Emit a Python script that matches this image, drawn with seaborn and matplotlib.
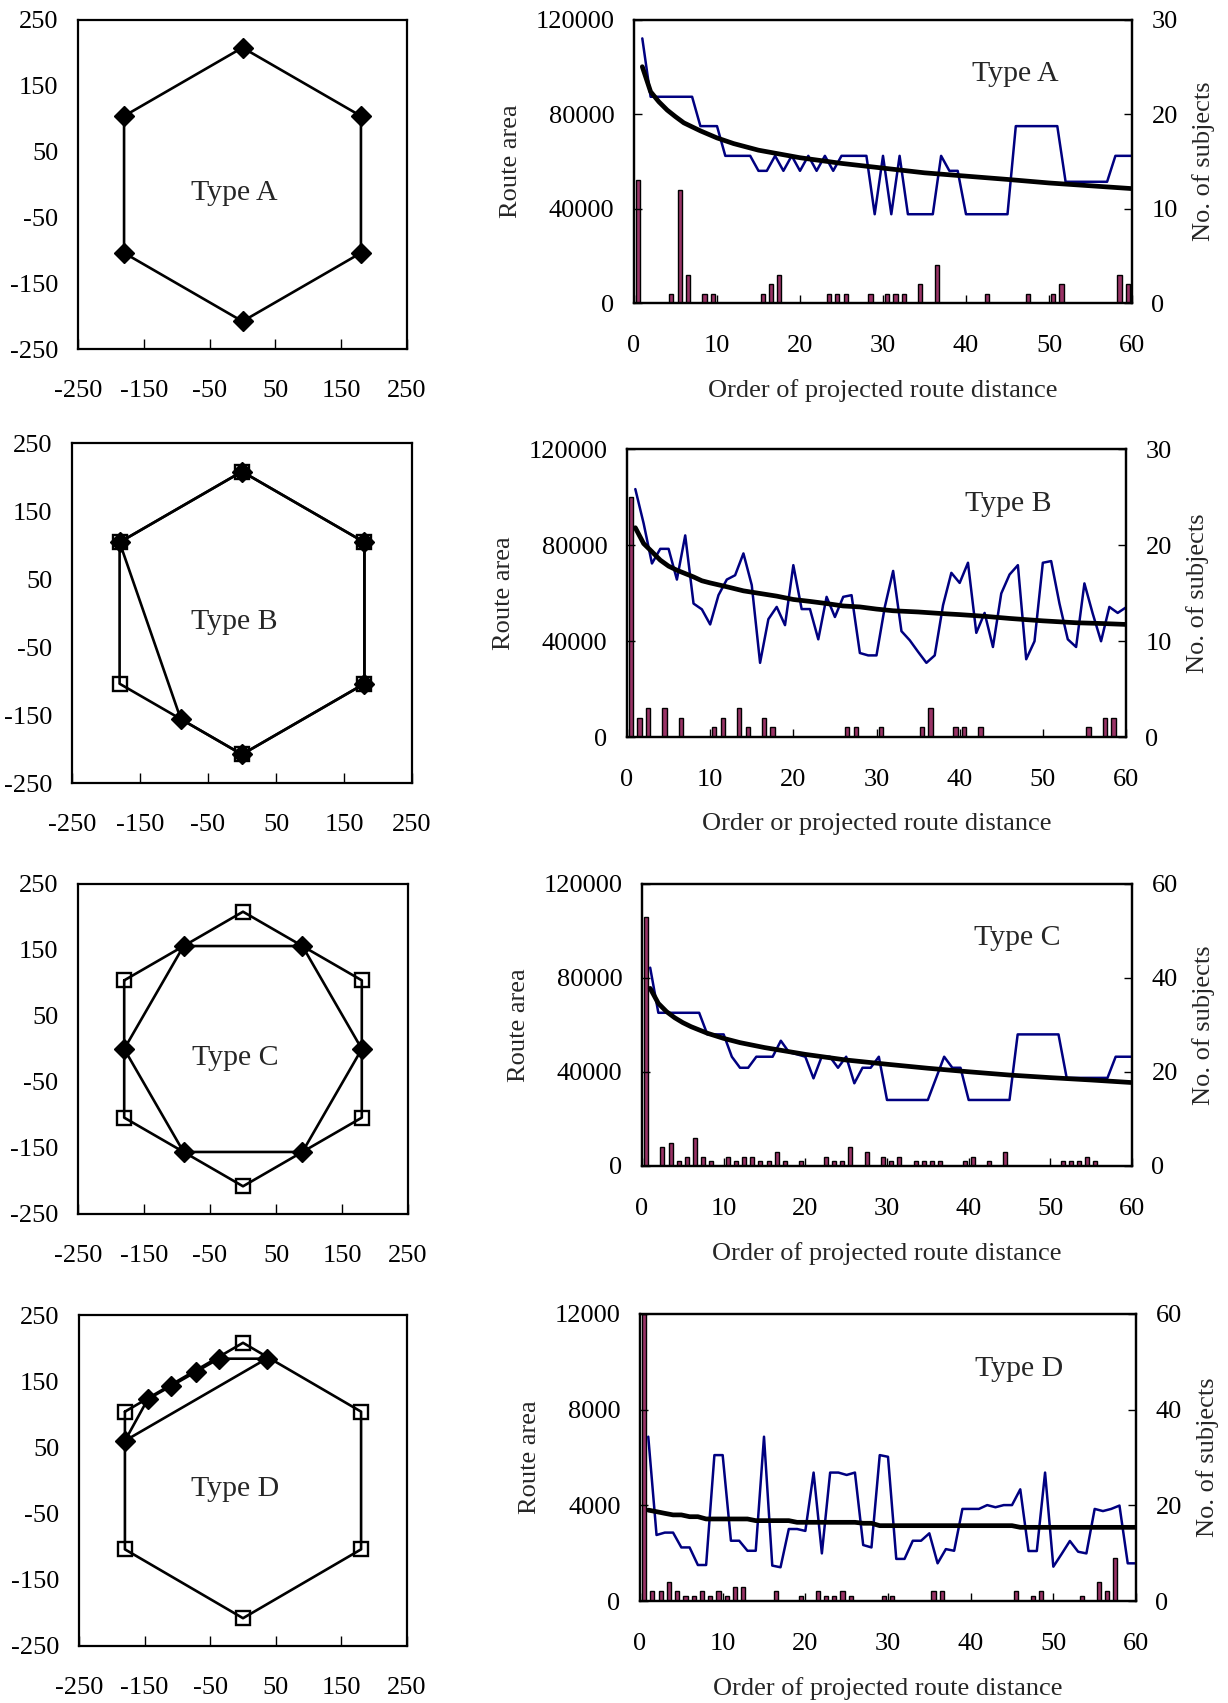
import numpy as np
import matplotlib
matplotlib.use("Agg")
import matplotlib.pyplot as plt
import seaborn as sns

sns.set_style("ticks")
plt.rcParams['font.family'] = ['Liberation Serif', 'DejaVu Serif']
plt.rcParams['axes.unicode_minus'] = False
plt.rcParams['xtick.direction'] = 'in'
plt.rcParams['ytick.direction'] = 'in'
plt.rcParams['axes.edgecolor'] = 'black'
plt.rcParams['xtick.color'] = 'black'
plt.rcParams['ytick.color'] = 'black'

# Rotas (esquerda): vertices do hexagono e das rotas alternativas
hex_x = [-180, 0, 180, 180, 0, -180]
hex_y = [104, 208, 104, -104, -208, -104]

B_dia_x = [-180, 0, 180, 180, 0, -90]
B_dia_y = [104, 208, 104, -104, -208, -156]

C_dia_x = [-90, 90, 180, 90, -90, -180]
C_dia_y = [156, 156, 0, -156, -156, 0]

D_dia_x = [-180, -145, -109, -72, -37, 36]
D_dia_y = [60, 123, 143, 164, 184, 184]

# Ordem da distancia projetada (1..60)
order = np.arange(1, 61)

A_area = [112200, 87450, 87450, 87450, 87450, 87450, 87450, 75000, 75000, 75000,
          62400, 62400, 62400, 62400, 56040, 56040, 62400, 56040, 62400, 56040,
          62400, 56040, 62400, 56040, 62400, 62400, 62400, 62400, 37640, 62400,
          37640, 62400, 37640, 37640, 37640, 37640, 62400, 56040, 56040, 37640,
          37640, 37640, 37640, 37640, 37640, 75000, 75000, 75000, 75000, 75000,
          75000, 51400, 51400, 51400, 51400, 51400, 51400, 62400, 62400, 62400]
A_trend_x = [1, 2, 3, 4, 5, 6, 8, 10, 12, 15, 20, 25, 30, 35, 40, 45, 50, 55, 60]
A_trend = [100200, 89600, 85300, 81800, 79000, 76400, 73000, 70000, 67600, 64800,
           61600, 59200, 57200, 55200, 53800, 52400, 50900, 49700, 48500]
A_bar_x = [0.5, 4.5, 5.5, 6.5, 8.5, 9.5, 15.5, 16.5, 17.5, 23.5, 24.5, 25.5, 28.5,
           30.5, 31.5, 32.5, 34.5, 36.5, 42.5, 47.5, 50.5, 51.5, 58.5, 59.5]
A_bar_n = [13, 1, 12, 3, 1, 1, 1, 2, 3, 1, 1, 1, 1, 1, 1, 1, 2, 4, 1, 1, 1, 2, 3, 2]

B_area = [103300, 89000, 72300, 78400, 78400, 65600, 84000, 55600, 53200, 46900,
          59100, 65600, 67400, 76500, 63300, 30900, 49100, 54200, 46600, 71600,
          53300, 53300, 40700, 58400, 50000, 58400, 59100, 35000, 34000, 34000,
          54200, 69200, 44100, 40300, 35500, 30900, 34000, 54900, 68400, 64200,
          72600, 43400, 51700, 37500, 59800, 67700, 71600, 32400, 39900, 72600,
          73300, 55600, 40700, 37500, 64000, 51400, 39900, 54200, 51700, 54000]
B_trend_x = [1, 2, 3, 4, 5, 6, 7, 8, 9, 10, 12, 14, 16, 18, 20, 22, 24, 26, 28, 30,
             32, 35, 38, 40, 43, 46, 50, 54, 57, 60]
B_trend = [87200, 80600, 77200, 73700, 71200, 69500, 68100, 66700, 65100, 64200,
           62600, 60900, 59800, 58700, 57300, 56500, 55600, 54600, 54200, 53300,
           52600, 52100, 51400, 51000, 50300, 49400, 48400, 47600, 47300, 46900]
B_bar_x = [0.5, 1.5, 2.5, 4.5, 6.5, 10.5, 11.5, 13.5, 14.5, 16.5, 17.5, 26.5, 27.5,
           30.5, 35.5, 36.5, 39.5, 40.5, 42.5, 55.5, 57.5, 58.5]
B_bar_n = [25, 2, 3, 3, 2, 1, 2, 3, 1, 2, 1, 1, 1, 1, 1, 3, 1, 1, 1, 1, 2, 2]

C_area = [84400, 65200, 65200, 65200, 65200, 65200, 65200, 56000, 56000, 56000,
          46500, 41800, 41800, 46500, 46500, 46500, 53300, 48400, 47500, 46500,
          37300, 46500, 46500, 41800, 46500, 35200, 41800, 41800, 46500, 28100,
          28100, 28100, 28100, 28100, 28100, 37300, 46500, 41800, 41800, 28100,
          28100, 28100, 28100, 28100, 28100, 56000, 56000, 56000, 56000, 56000,
          56000, 37500, 37500, 37500, 37500, 37500, 37500, 46500, 46500, 46500]
C_trend_x = [1, 2, 3, 4, 5, 6, 8, 10, 12, 15, 20, 25, 30, 35, 40, 45, 50, 55, 60]
C_trend = [75600, 69200, 65700, 63100, 61000, 59300, 56500, 54300, 52500, 50400,
           47500, 45100, 43300, 41600, 40100, 38700, 37600, 36600, 35500]
C_bar_x = [0.5, 2.5, 3.5, 4.5, 5.5, 6.5, 7.5, 8.5, 10.5, 11.5, 12.5, 13.5, 14.5,
           15.5, 16.5, 17.5, 19.5, 22.5, 23.5, 24.5, 25.5, 27.5, 29.5, 30.5, 31.5,
           33.5, 34.5, 35.5, 36.5, 39.5, 40.5, 42.5, 44.5, 51.5, 52.5, 53.5, 54.5, 55.5]
C_bar_n = [53, 4, 5, 1, 2, 6, 2, 1, 2, 1, 2, 2, 1, 1, 3, 1, 1, 2, 1, 1, 4, 3, 2, 1,
           2, 1, 1, 1, 1, 1, 2, 1, 3, 1, 1, 1, 2, 1]

D_area = [6870, 2760, 2860, 2860, 2240, 2240, 1505, 1505, 6100, 6100,
          2520, 2520, 2100, 2100, 6870, 1480, 1410, 3010, 3010, 2930,
          5370, 1990, 5370, 5370, 5270, 5370, 2340, 2240, 6100, 6030,
          1760, 1760, 2520, 2520, 2830, 1575, 2170, 2100, 3850, 3850,
          3850, 4010, 3920, 4010, 4010, 4670, 2090, 2090, 5370, 1435,
          1965, 2510, 2060, 1990, 3850, 3760, 3850, 3990, 1575, 1575]
D_trend_x = order
D_trend = [3800, 3735, 3665, 3600, 3600, 3525, 3525, 3430, 3430, 3430,
           3430, 3430, 3430, 3360, 3360, 3360, 3360, 3360, 3290, 3290,
           3290, 3290, 3290, 3290, 3290, 3290, 3250, 3250, 3150, 3150,
           3150, 3150, 3150, 3150, 3150, 3150, 3150, 3150, 3150, 3150,
           3150, 3150, 3150, 3150, 3150, 3080, 3080, 3080, 3080, 3080,
           3080, 3080, 3080, 3080, 3080, 3080, 3080, 3080, 3080, 3080]
D_bar_x = [0.5, 1.5, 2.5, 3.5, 4.5, 5.5, 6.5, 7.5, 8.5, 9.5, 10.5, 11.5, 12.5, 16.5,
           19.5, 21.5, 22.5, 23.5, 24.5, 25.5, 29.5, 30.5, 35.5, 36.5, 45.5, 47.5,
           48.5, 53.5, 55.5, 56.5, 57.5]
D_bar_n = [60, 2, 2, 4, 2, 1, 1, 2, 1, 2, 1, 3, 3, 2, 1, 2, 1, 1, 2, 1, 1, 1, 2, 2,
           2, 1, 2, 1, 4, 2, 9]

W, H = 1228, 1703
fig = plt.figure(figsize=(W / 100, H / 100), dpi=100)
FS = 19


def box(l, t, r, b):
    return [l / W, 1 - b / H, (r - l) / W, (b - t) / H]


def closed(xs, ys):
    return list(xs) + [xs[0]], list(ys) + [ys[0]]


def route_panel(rect, label, sq=None, dia=None):
    ax = fig.add_axes(box(*rect))
    for spine in ax.spines.values():
        spine.set_linewidth(1.6)
    if sq is not None:
        xs, ys = closed(*sq)
        sns.lineplot(x=xs, y=ys, sort=False, estimator=None, color='black', lw=1.9, ax=ax)
    if dia is not None:
        xs, ys = closed(*dia)
        sns.lineplot(x=xs, y=ys, sort=False, estimator=None, color='black', lw=1.9, ax=ax)
    if sq is not None:
        ax.plot(sq[0], sq[1], ls='none', marker='s', ms=10.5, mfc='none', mec='black', mew=1.7)
    if dia is not None:
        ax.plot(dia[0], dia[1], ls='none', marker='D', ms=10, mfc='black', mec='black')
    ax.set_xlim(-250, 250)
    ax.set_ylim(-250, 250)
    ticks = [-250, -150, -50, 50, 150, 250]
    ax.set_xticks(ticks)
    ax.set_yticks(ticks)
    ax.tick_params(axis='x', labelsize=FS, length=7, width=1, pad=22)
    ax.tick_params(axis='y', labelsize=FS, length=0, pad=14)
    ax.text(-12, -13, label, ha='center', va='center', fontsize=21.5)
    return ax


def area_panel(rect, label, area, trend_x, trend, bar_x, bar_n, ymax, nmax, xlabel):
    ax = fig.add_axes(box(*rect))
    ax2 = ax.twinx()
    ax2.bar(bar_x, bar_n, width=0.5, color='#993366', edgecolor='black', linewidth=1)
    ax.set_zorder(ax2.get_zorder() + 1)
    ax.patch.set_visible(False)
    sns.lineplot(x=order, y=area, color='#000080', lw=1.8, ax=ax)
    sns.lineplot(x=trend_x, y=trend, color='black', lw=3.4, ax=ax)

    ax.set_xlim(0, 60)
    ax.set_xticks(range(0, 61, 10))
    yt = np.linspace(0, ymax, 4)
    ax.set_ylim(0, ymax)
    ax.set_yticks(yt)
    ax.set_yticklabels([str(int(v)) for v in yt])
    nt = np.linspace(0, nmax, 4)
    ax2.set_ylim(0, nmax)
    ax2.set_yticks(nt)
    ax2.set_yticklabels([str(int(v)) for v in nt])
    for a in (ax, ax2):
        for spine in a.spines.values():
            spine.set_linewidth(1.6)
    ax.tick_params(axis='x', labelsize=FS, length=6, width=1, pad=23)
    ax.tick_params(axis='y', labelsize=FS, length=6, width=1, pad=14)
    ax2.tick_params(axis='y', labelsize=FS, length=6, width=1, pad=14)
    ax.set_xlabel(xlabel, fontsize=FS, labelpad=16)
    ax.set_ylabel('Route area', fontsize=FS, labelpad=10)
    ax2.set_ylabel('No. of subjects', fontsize=FS, labelpad=10)
    ax.text(0.765, 0.81, label, transform=ax.transAxes, ha='center', va='center',
            fontsize=21.5)
    return ax


route_panel((78, 20, 407, 349), 'Type A', dia=(hex_x, hex_y))
route_panel((72, 443, 412, 783), 'Type B', sq=(hex_x, hex_y), dia=(B_dia_x, B_dia_y))
route_panel((78, 884, 408, 1214), 'Type C', sq=(hex_x, hex_y), dia=(C_dia_x, C_dia_y))
route_panel((79, 1315, 407, 1646), 'Type D', sq=(hex_x, hex_y), dia=(D_dia_x, D_dia_y))

area_panel((634, 20, 1132, 303), 'Type A', A_area, A_trend_x, A_trend, A_bar_x, A_bar_n,
           120000, 30, 'Order of projected route distance')
area_panel((627, 449, 1126, 737), 'Type B', B_area, B_trend_x, B_trend, B_bar_x, B_bar_n,
           120000, 30, 'Order or projected route distance')
area_panel((642, 884, 1132, 1166), 'Type C', C_area, C_trend_x, C_trend, C_bar_x, C_bar_n,
           120000, 60, 'Order of projected route distance')
area_panel((640, 1314, 1136, 1601), 'Type D', D_area, D_trend_x, D_trend, D_bar_x, D_bar_n,
           12000, 60, 'Order of projected route distance')

fig.savefig('out.png', dpi=100)
plt.close(fig)
